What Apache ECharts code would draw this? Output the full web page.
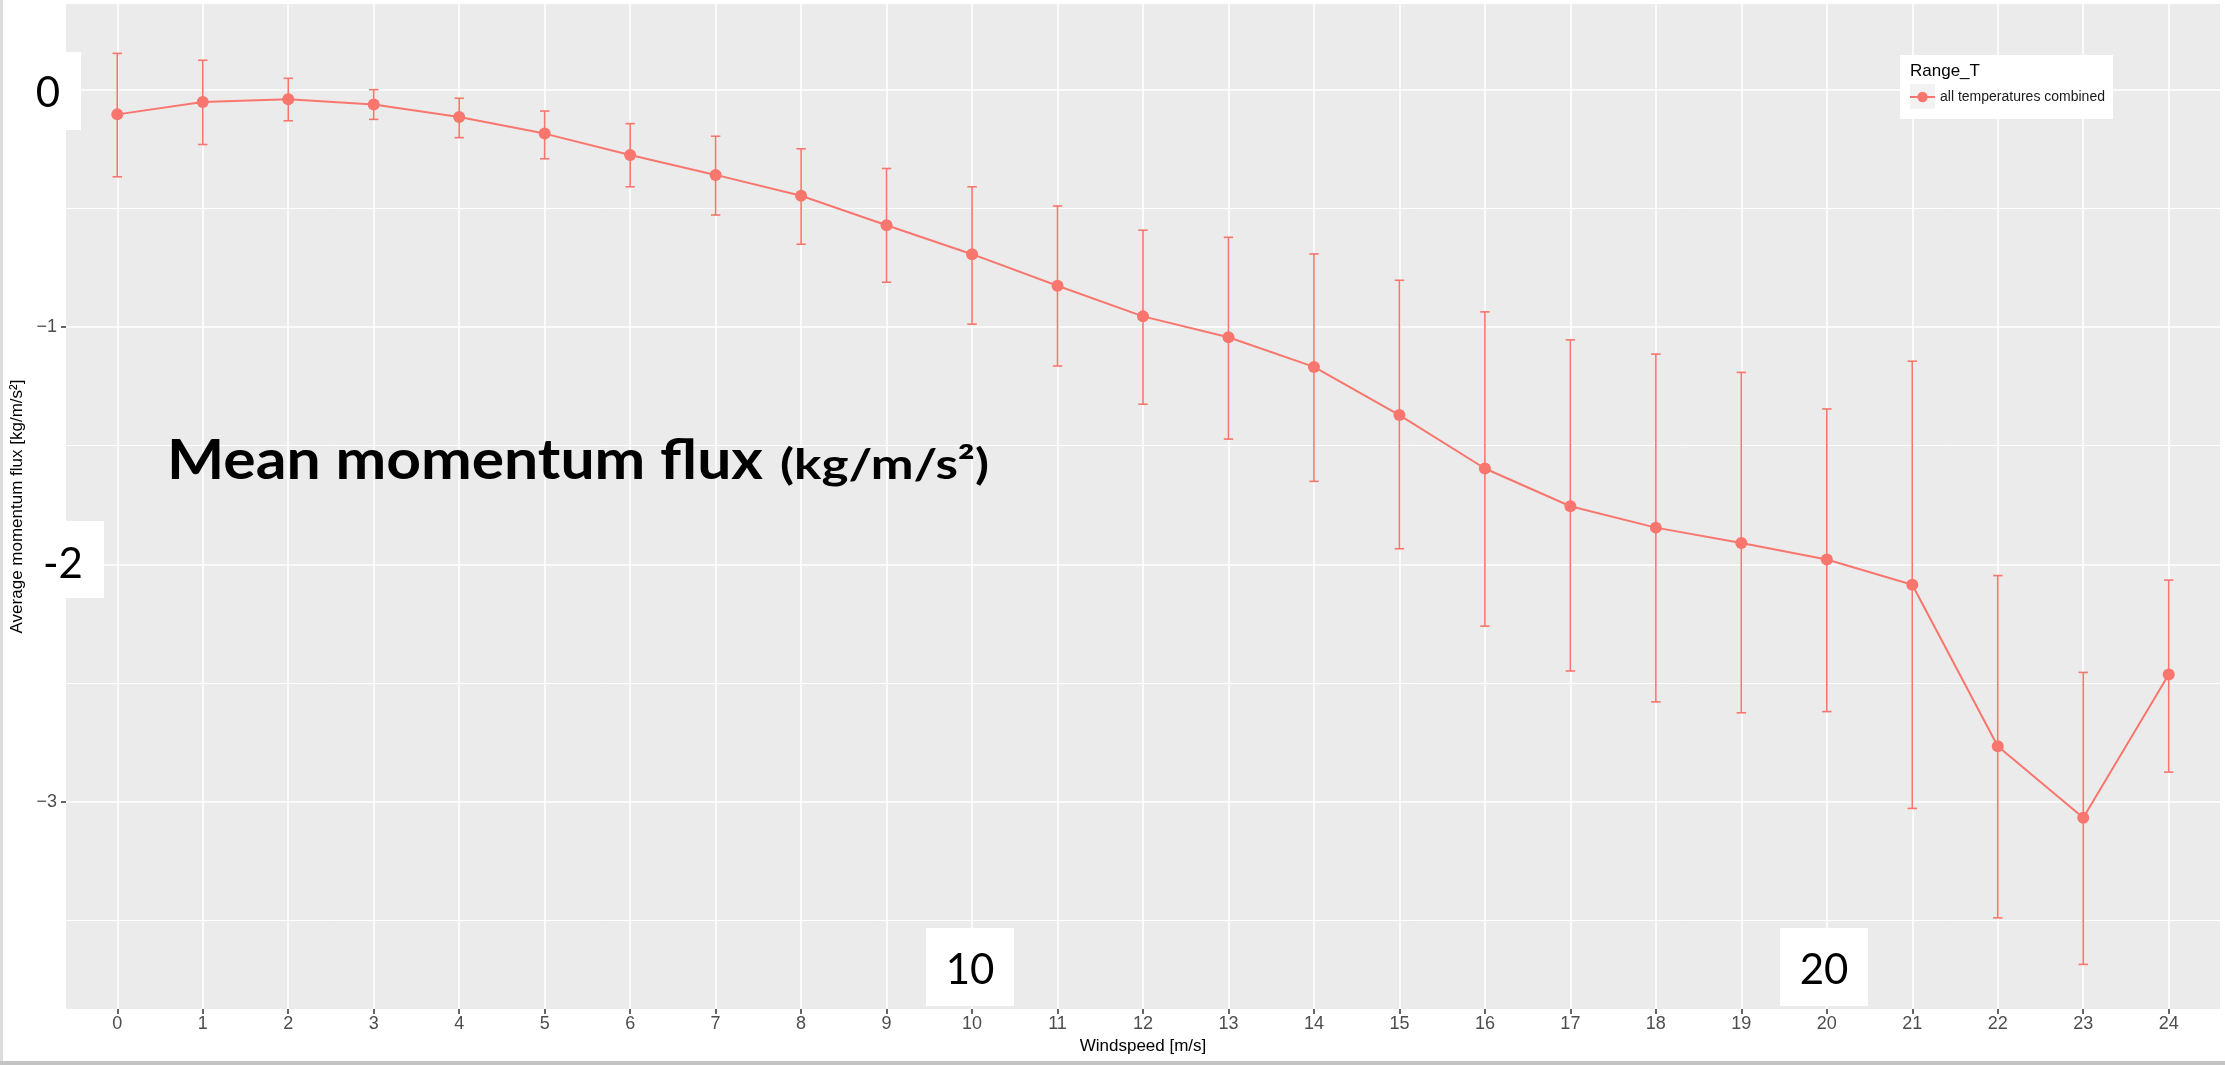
<!DOCTYPE html>
<html><head><meta charset="utf-8">
<script src="https://cdn.jsdelivr.net/npm/echarts@6/dist/echarts.min.js"></script>
<style>html,body{margin:0;padding:0;background:#fff}#c{width:2225px;height:1065px}</style>
</head><body><div id="c"></div>
<script>
// ---- data ----
const windspeed = [0,1,2,3,4,5,6,7,8,9,10,11,12,13,14,15,16,17,18,19,20,21,22,23,24];
const meanFlux  = [-0.104,-0.052,-0.040,-0.062,-0.115,-0.185,-0.275,-0.359,-0.447,-0.571,-0.693,-0.826,-0.955,-1.043,-1.168,-1.371,-1.596,-1.755,-1.845,-1.910,-1.979,-2.086,-2.766,-3.067,-2.464];
const upperFlux = [0.153,0.124,0.048,0.000,-0.036,-0.090,-0.143,-0.196,-0.249,-0.332,-0.409,-0.490,-0.592,-0.622,-0.692,-0.803,-0.936,-1.054,-1.114,-1.191,-1.345,-1.144,-2.047,-2.455,-2.066];
const lowerFlux = [-0.367,-0.231,-0.131,-0.125,-0.202,-0.291,-0.409,-0.528,-0.651,-0.811,-0.988,-1.164,-1.325,-1.472,-1.650,-1.934,-2.260,-2.449,-2.579,-2.625,-2.620,-3.028,-3.489,-3.685,-2.875];
const xTicks = [0,1,2,3,4,5,6,7,8,9,10,11,12,13,14,15,16,17,18,19,20,21,22,23,24];
const yMajorTicks = [-3,-2,-1,0];
const yMinorTicks = [-3.5,-2.5,-1.5,-0.5];
const yTickLabels = [-3,-1];
const seriesName = 'all temperatures combined';
const legendTitle = 'Range_T';
const xTitle = 'Windspeed [m/s]';
const yTitle = 'Average momentum flux [kg/m/s\u00b2]';
const bigTitleMain = 'Mean momentum flux';
const bigTitleUnit = '(kg/m/s\u00b2)';
const overlayLabels = ['0','-2','10','20'];

const RED = '#F8766D';
const chart = echarts.init(document.getElementById('c'), null, {renderer:'canvas'});

function measure(text, font){
  const ctx = document.createElement('canvas').getContext('2d');
  ctx.font = font; return ctx.measureText(text).width;
}
const fMain = 'bold 56px Lato', fUnit = 'bold 42px Lato';
const sMain = 596 / measure(bigTitleMain, fMain);
const sUnit = 209 / measure(bigTitleUnit, fUnit);

const meanData = windspeed.map((x,i)=>[x, meanFlux[i]]);
const errData = windspeed.map((x,i)=>[x, lowerFlux[i], upperFlux[i]]);
const capWidth = 0.11;

function box(x,y,w,h){ return {type:'rect', shape:{x,y,width:w,height:h}, style:{fill:'#fff'}, z:10}; }
function bigNum(t,x,y){ return {type:'text', x, y, z:11, style:{text:t, font:'42px Lato', fill:'#000', align:'center', verticalAlign:'middle'}}; }

chart.setOption({
  animation:false,
  backgroundColor:'#fff',
  grid:{left:66, right:5, top:4, bottom:56, show:true, backgroundColor:'#EBEBEB', borderWidth:0},
  xAxis:{
    type:'value', min:-0.6, max:24.6,
    axisLine:{show:false, onZero:false},
    axisTick:{customValues:xTicks, length:5, lineStyle:{color:'#333', width:1.5}},
    axisLabel:{customValues:xTicks, color:'#4D4D4D', fontSize:18, fontFamily:'Liberation Sans', margin:6},
    splitLine:{show:true, lineStyle:{color:'#fff', width:1.5}},
    name:xTitle, nameLocation:'middle', nameGap:28,
    nameTextStyle:{color:'#000', fontSize:17, fontFamily:'Liberation Sans'}
  },
  yAxis:[{
    type:'value', min:-3.873, max:0.361,
    axisLine:{show:false, onZero:false},
    axisTick:{customValues:yMajorTicks, length:5, lineStyle:{color:'#333', width:1.5}},
    axisLabel:{customValues:yTickLabels, color:'#4D4D4D', fontSize:18, fontFamily:'Liberation Sans', margin:9,
      formatter:v=> v<0 ? '\u2212'+Math.abs(v) : String(v)},
    splitLine:{show:true, lineStyle:{color:'#fff', width:1.5}},
    name:yTitle, nameLocation:'middle', nameGap:38,
    nameTextStyle:{color:'#000', fontSize:17, fontFamily:'Liberation Sans'}
  },{
    type:'value', min:-3.873, max:0.361, position:'left',
    axisLine:{show:false, onZero:false},
    axisTick:{show:false, customValues:yMinorTicks},
    axisLabel:{show:false, customValues:yMinorTicks},
    splitLine:{show:true, lineStyle:{color:'#fff', width:1}}
  }],
  legend:{
    data:[{name:seriesName}], left:1909, top:90, orient:'vertical',
    itemWidth:25, itemHeight:13, padding:0,
    textStyle:{fontSize:14, color:'#1A1A1A', fontFamily:'Liberation Sans'}
  },
  series:[{
    type:'custom', name:'err', yAxisIndex:0, z:2,
    data:errData, encode:{x:0, y:[1,2]},
    renderItem:function(params, api){
      const x = api.value(0);
      const lo = api.coord([x, api.value(1)]);
      const hi = api.coord([x, api.value(2)]);
      const half = api.size([capWidth,0])[0]/2;
      const st = {stroke:RED, lineWidth:1.6};
      return {type:'group', children:[
        {type:'line', shape:{x1:lo[0],y1:lo[1],x2:hi[0],y2:hi[1]}, style:st},
        {type:'line', shape:{x1:hi[0]-half,y1:hi[1],x2:hi[0]+half,y2:hi[1]}, style:st},
        {type:'line', shape:{x1:lo[0]-half,y1:lo[1],x2:lo[0]+half,y2:lo[1]}, style:st}
      ]};
    }
  },{
    type:'line', name:seriesName, yAxisIndex:0, z:3,
    data:meanData, symbol:'circle', symbolSize:12, showSymbol:true,
    itemStyle:{color:RED}, lineStyle:{color:RED, width:2}
  }],
  graphic:[
    // legend box
    {type:'rect', shape:{x:1900,y:55,width:213,height:64}, style:{fill:'#fff'}, z:3},
    {type:'rect', shape:{x:1910,y:84,width:25,height:25}, style:{fill:'#F2F2F2'}, z:3},
    {type:'text', x:1910, y:71, z:4, style:{text:legendTitle, font:'17px "Liberation Sans"', fill:'#000', align:'left', verticalAlign:'middle'}},
    // big annotation title
    {type:'text', x:167, y:461, scaleX:sMain, z:9, style:{text:bigTitleMain, font:fMain, fill:'#000', align:'left', verticalAlign:'middle'}},
    {type:'text', x:780, y:465, scaleX:sUnit, z:9, style:{text:bigTitleUnit, font:fUnit, fill:'#000', align:'left', verticalAlign:'middle'}},
    // white label overlays
    box(30,52,51,78), bigNum(overlayLabels[0],48,93.5),
    box(40,521,64,77), bigNum(overlayLabels[1],63,564.5),
    box(926,928,88,78), bigNum(overlayLabels[2],970,970.5),
    box(1780,928,88,78), bigNum(overlayLabels[3],1824,970.5),
    // screenshot frame
    {type:'rect', shape:{x:0,y:0,width:3,height:1065}, style:{fill:'#DCDCDC'}, z:12},
    {type:'rect', shape:{x:0,y:1061,width:2225,height:4}, style:{fill:'#C4C4C4'}, z:12}
  ]
});
</script></body></html>
